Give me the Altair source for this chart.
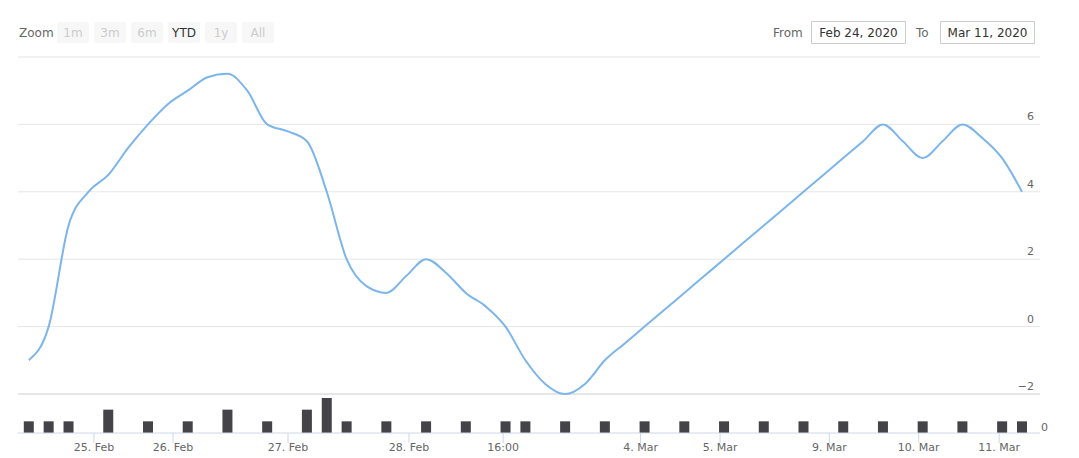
import altair as alt
import pandas as pd

# ---- data ----
line_values = [-1, 0, 3, 4, 4.5, 5.3, 6, 6.6, 7, 7.4, 7.5, 7, 6, 5.8, 5.5, 4, 2, 1.2, 1, 1.5,
               2, 1.6, 1, 0.6, 0, -1, -1.7, -2, -1.7, -1, -0.5, 0, 0.5, 1, 1.5, 2, 2.5, 3, 3.5, 4,
               4.5, 5, 5.5, 6, 5.5, 5, 5.5, 6, 5.6, 5, 4]
volume_index = [0, 1, 2, 4, 6, 8, 10, 12, 14, 15, 16, 18, 20, 22, 24, 25, 27, 29, 31, 33, 35,
                37, 39, 41, 43, 45, 47, 49, 50]
volume_values = [1, 1, 1, 2, 1, 1, 2, 1, 2, 3, 1, 1, 1, 1, 1, 1, 1, 1, 1, 1, 1,
                 1, 1, 1, 1, 1, 1, 1, 1]
tick_labels = ["25. Feb", "26. Feb", "27. Feb", "28. Feb", "16:00", "4. Mar", "5. Mar",
               "9. Mar", "10. Mar", "11. Mar"]
tick_positions = [3.28, 7.26, 13.05, 19.14, 23.88, 30.8, 34.8, 40.3, 44.8, 48.85]
y_grid = [-2, 0, 2, 4, 6, 8]
y_labels = ["−2", "0", "2", "4", "6"]
buttons = ["1m", "3m", "6m", "YTD", "1y", "All"]
date_from = "Feb 24, 2020"
date_to = "Mar 11, 2020"

FONT = "DejaVu Sans"
line_df = pd.DataFrame({"i": list(range(len(line_values))), "v": line_values})
vol_df = pd.DataFrame({"i": volume_index, "vol": volume_values})
tick_df = pd.DataFrame({"pos": tick_positions, "label": tick_labels})
grid_df = pd.DataFrame({"g": y_grid, "w": [2 if g == -2 else 1 for g in y_grid]})
ylab_df = pd.DataFrame({"g": y_grid[:5], "label": y_labels})
zero_df = pd.DataFrame({"vol": [0], "label": ["0"]})

xs = alt.Scale(domain=[0, 50], range=[20.8, 1014], padding=0, nice=False, zero=False)
ys = alt.Scale(domain=[-2, 8], range=[386, 49], padding=0, nice=False, zero=False)
vs = alt.Scale(domain=[0, 3], range=[425, 390], padding=0, nice=False)
X = lambda f: alt.X(f, type="quantitative", scale=xs, axis=None)

grid = alt.Chart(grid_df).mark_rule(color="#e6e6e6").encode(
    y=alt.Y("g:Q", scale=ys, axis=None), x=alt.value(10), x2=alt.value(1032),
    strokeWidth=alt.StrokeWidth("w:Q", scale=None, legend=None))
ylab = alt.Chart(ylab_df).mark_text(font=FONT, fontSize=11, color="#666666", align="right",
                                    baseline="bottom", dy=-2).encode(
    y=alt.Y("g:Q", scale=ys, axis=None), x=alt.value(1026), text="label:N")
line = alt.Chart(line_df).mark_line(color="#7cb5ec", strokeWidth=2, interpolate="monotone").encode(
    x=X("i"), y=alt.Y("v:Q", scale=ys, axis=None))

bars = alt.Chart(vol_df).mark_bar(color="#434348", size=10).encode(
    x=X("i"), y=alt.Y("vol:Q", scale=vs, axis=None), y2=alt.datum(0))
zero = alt.Chart(zero_df).mark_text(font=FONT, fontSize=11, color="#666666", align="left",
                                    baseline="middle", dy=-5).encode(
    y=alt.Y("vol:Q", scale=vs, axis=None), x=alt.value(1033), text="label:N")
xaxis = alt.Chart(zero_df).mark_rule(color="#ccd6eb").encode(
    y=alt.Y("vol:Q", scale=vs, axis=None), x=alt.value(10), x2=alt.value(1032))
ticks = alt.Chart(tick_df).mark_rule(color="#ccd6eb").encode(
    x=X("pos"), y=alt.value(425), y2=alt.value(435))
tlab = alt.Chart(tick_df).mark_text(font=FONT, fontSize=11, color="#666666",
                                    baseline="middle").encode(
    x=X("pos"), y=alt.value(440), text="label:N")

layers = [grid, ylab, line, bars, xaxis, zero, ticks, tlab]

one = pd.DataFrame({"a": [0]})
layers.append(alt.Chart(one).mark_text(text="Zoom", font=FONT, fontSize=12, color="#666666",
                                       align="left", baseline="middle").encode(
    x=alt.value(11), y=alt.value(24.5)))
for k, b in enumerate(buttons):
    x0 = 49 + 37 * k
    layers.append(alt.Chart(one).mark_rect(color="#f7f7f7", cornerRadius=2).encode(
        x=alt.value(x0), x2=alt.value(x0 + 32), y=alt.value(14), y2=alt.value(35)))
    layers.append(alt.Chart(one).mark_text(text=b, font=FONT, fontSize=12,
                                           color="#333333" if b == "YTD" else "#cccccc",
                                           baseline="middle").encode(
        x=alt.value(x0 + 16), y=alt.value(24.5)))

layers.append(alt.Chart(one).mark_text(text="From", font=FONT, fontSize=12, color="#666666",
                                       align="left", baseline="middle").encode(
    x=alt.value(765), y=alt.value(24.5)))
layers.append(alt.Chart(one).mark_text(text="To", font=FONT, fontSize=12, color="#666666",
                                       align="left", baseline="middle").encode(
    x=alt.value(908), y=alt.value(24.5)))
for x0, txt in [(803.5, date_from), (932.5, date_to)]:
    layers.append(alt.Chart(one).mark_rect(fill="white", stroke="#cccccc", strokeWidth=1).encode(
        x=alt.value(x0), x2=alt.value(x0 + 94), y=alt.value(13.5), y2=alt.value(35.5)))
    layers.append(alt.Chart(one).mark_text(text=txt, font=FONT, fontSize=12, color="#333333",
                                           baseline="middle").encode(
        x=alt.value(x0 + 47), y=alt.value(24.5)))

chart = alt.layer(*layers).resolve_scale(y="independent", x="shared").properties(
    width=1063, height=450, padding=0, autosize=alt.AutoSizeParams(type="none"),
    background="white"
).configure_view(stroke=None)

chart.save("out.html", embed_options={"renderer": "svg", "actions": False})
